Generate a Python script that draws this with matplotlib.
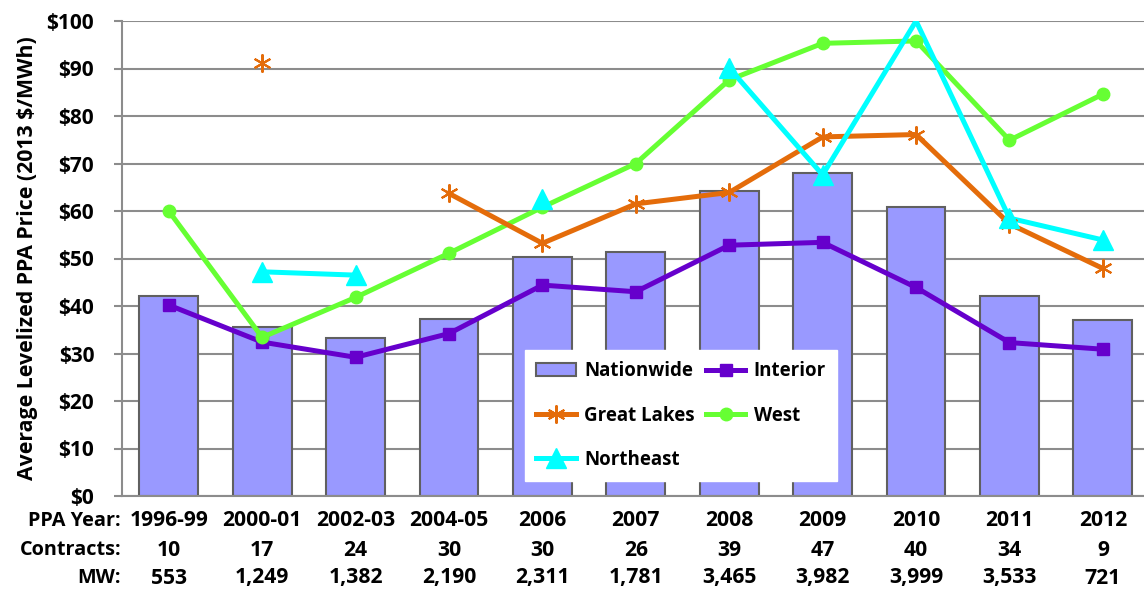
import matplotlib.pyplot as plt
import matplotlib.transforms as mtransforms
import numpy as np

years = ["1996-99", "2000-01", "2002-03", "2004-05", "2006", "2007",
         "2008", "2009", "2010", "2011", "2012"]
contracts = ["10", "17", "24", "30", "30", "26", "39", "47", "40", "34", "9"]
mw = ["553", "1,249", "1,382", "2,190", "2,311", "1,781", "3,465",
      "3,982", "3,999", "3,533", "721"]

nationwide = [42.1, 35.6, 33.3, 37.3, 50.3, 51.4, 64.2, 67.9, 60.9, 42.1, 37.0]
interior = [40.2, 32.4, 29.2, 34.2, 44.4, 43.0, 52.8, 53.4, 43.9, 32.3, 30.9]
great_lakes = [np.nan, 91.1, np.nan, 63.7, 53.2, 61.5, 63.9, 75.6, 76.1, 57.3, 47.9]
west = [60.0, 33.4, 41.8, 51.1, 60.8, 70.0, 87.6, 95.3, 95.8, 74.9, 84.6]
northeast = [np.nan, 47.2, 46.5, np.nan, 62.6, np.nan, 90.1, 67.6, 100.0, 58.5, 53.9]

plt.rcParams['font.family'] = ['Open Sans', 'DejaVu Sans']
plt.rcParams['font.weight'] = 'bold'

fig = plt.figure(figsize=(11.44, 5.9), dpi=100)
ax = fig.add_axes([122 / 1144, 1 - 496 / 590, 1022 / 1144, 475 / 590])

x = np.arange(len(years))
ax.bar(x, nationwide, width=0.63, color="#9999FF", edgecolor="#606060",
       linewidth=1.5, zorder=2)

LW = 3.6


def draw_series(vals, color, marker, ms, label, join_gaps=True, mew=1.0):
    vals = np.array(vals, dtype=float)
    ok = ~np.isnan(vals)
    if join_gaps:
        ax.plot(x[ok], vals[ok], color=color, lw=LW, zorder=3)
    else:
        ax.plot(x, vals, color=color, lw=LW, zorder=3)
    # excel leaves out markers sitting on the top edge
    vis = ok & (vals < 100)
    ax.plot(x[vis], vals[vis], ls="none", marker=marker, ms=ms, color=color,
            mec=color, mew=mew, zorder=4)
    return plt.Line2D([], [], color=color, lw=LW, marker=marker, ms=ms,
                      mec=color, mew=mew, label=label)


h_int = draw_series(interior, "#6600CC", "s", 9, "Interior")
h_west = draw_series(west, "#66FF33", "o", 9, "West")
h_gl = draw_series(great_lakes, "#E46C0A", (6, 2, 0), 13, "Great Lakes",
                   join_gaps=False, mew=1.5)
h_ne = draw_series(northeast, "#00FFFF", "^", 14, "Northeast",
                   join_gaps=False)

ax.set_xlim(-0.5, 10.44)
ax.set_ylim(0, 100)
ax.set_yticks(np.arange(0, 101, 10))
ax.set_yticklabels(["$%d" % v for v in range(0, 101, 10)], fontsize=15,
                   fontweight="bold")
ax.yaxis.grid(True, color="#8C8C8C", lw=1.5, zorder=0)
ax.set_axisbelow(True)
ax.tick_params(axis="y", length=6, width=1.5, color="#8C8C8C", pad=14)
ax.set_xticks([])
for s in ["top", "right"]:
    ax.spines[s].set_visible(False)
for s in ["left", "bottom"]:
    ax.spines[s].set_color("#8C8C8C")
    ax.spines[s].set_linewidth(1.5)
ax.set_ylabel("Average Levelized PPA Price (2013 $/MWh)", fontsize=15.3,
              fontweight="bold", labelpad=6)

trans = mtransforms.blended_transform_factory(ax.transData, ax.transAxes)
row_y = [(496 - 521) / 475, (496 - 550) / 475, (496 - 578) / 475]
rows = [("PPA Year:", years), ("Contracts:", contracts), ("MW:", mw)]
for (name, labels), ry in zip(rows, row_y):
    ax.text(-0.51, ry, name, transform=trans, ha="right", va="center",
            fontsize=14.3, fontweight="bold")
    for i, lab in enumerate(labels):
        ax.text(i, ry, lab, transform=trans, ha="center", va="center",
                fontsize=15.2, fontweight="bold")

bar_h = plt.Rectangle((0, 0), 1, 1, facecolor="#9999FF", edgecolor="#606060",
                      lw=1.5, label="Nationwide")
leg = ax.legend(handles=[bar_h, h_gl, h_ne, h_int, h_west], ncol=2,
                loc="upper left",
                bbox_to_anchor=((525 - 122) / 1022, (496 - 350) / 475),
                frameon=True, fancybox=False, framealpha=1, edgecolor="white",
                prop={"size": 13.5, "weight": "bold"}, handlelength=2.1,
                columnspacing=0.6, labelspacing=1.3, borderpad=0.6,
                borderaxespad=0, handletextpad=0.45)
leg.set_zorder(5)

fig.savefig("out.png", dpi=100)
